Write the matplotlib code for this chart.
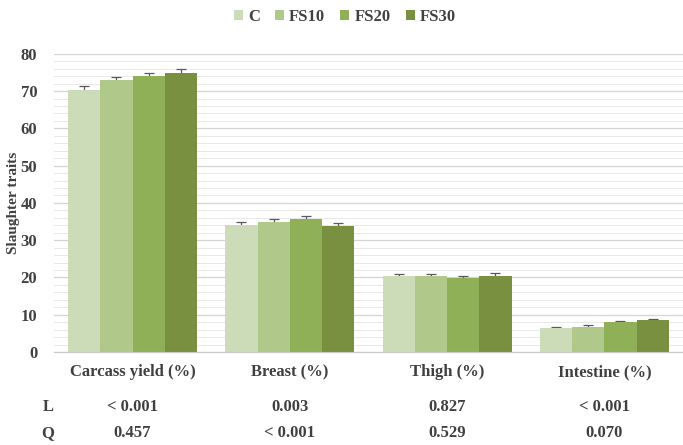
import numpy as np
import matplotlib.pyplot as plt
from matplotlib.ticker import MultipleLocator

categories = ['Carcass yield (%)', 'Breast (%)', 'Thigh (%)', 'Intestine (%)']
groups = ['C', 'FS10', 'FS20', 'FS30']
means = {
    'C':    [70.4, 34.0, 20.4, 6.5],
    'FS10': [73.0, 34.9, 20.3, 6.8],
    'FS20': [74.0, 35.7, 19.8, 8.0],
    'FS30': [74.8, 33.7, 20.5, 8.5],
}
errors = {
    'C':    [0.9, 0.8, 0.6, 0.3],
    'FS10': [0.9, 0.7, 0.6, 0.4],
    'FS20': [0.9, 0.8, 0.6, 0.4],
    'FS30': [1.0, 0.8, 0.6, 0.4],
}
p_linear = ['< 0.001', '0.003', '0.827', '< 0.001']
p_quad = ['0.457', '< 0.001', '0.529', '0.070']
colors = ['#cddcb8', '#b0c98a', '#8fb057', '#78903f']

plt.rcParams['font.family'] = 'Liberation Serif'
plt.rcParams['font.weight'] = 'bold'
txt = '#404040'

fig = plt.figure(figsize=(6.83, 4.45), dpi=100)
ax = fig.add_axes([0.079, 0.209, 0.921, 0.670])

x = np.arange(len(categories))
w = 0.205
for i, g in enumerate(groups):
    xs = x + (i - 1.5) * w
    ax.bar(xs, means[g], w, color=colors[i], label=g, zorder=3)
    # whiskers sit behind the bars so only the upper half shows
    ax.errorbar(xs, means[g], yerr=errors[g], fmt='none', ecolor='#595959',
                elinewidth=0.9, capsize=3.5, capthick=0.9, zorder=2)

ax.set_xlim(-0.5, len(categories) - 0.5)
ax.set_ylim(0, 80)
ax.yaxis.set_major_locator(MultipleLocator(10))
ax.yaxis.set_minor_locator(MultipleLocator(2))
ax.grid(axis='y', which='major', color='#d4d4d4', lw=0.9, zorder=0)
ax.grid(axis='y', which='minor', color='#e8e8e8', lw=0.7, zorder=0)
for s in ['top', 'right', 'left']:
    ax.spines[s].set_visible(False)
ax.spines['bottom'].set_color('#c8c8c8')
ax.spines['bottom'].set_zorder(4)
ax.tick_params(axis='both', which='both', length=0, colors=txt, labelsize=12)
ax.tick_params(axis='y', pad=12)
ax.tick_params(axis='x', pad=9, labelsize=12)
ax.set_xticks(x)
ax.set_xticklabels(categories, fontweight='bold')
for lab in ax.get_yticklabels():
    lab.set_fontweight('bold')
fig.text(14 / 683, 1 - 203 / 445, 'Slaughter traits', rotation=90, ha='center',
         va='center', fontsize=11, color=txt, fontweight='bold')

# P-values for linear and quadratic contrasts
trans = ax.get_xaxis_transform()
for xi, l, q in zip(x, p_linear, p_quad):
    ax.text(xi, -0.185, l, transform=trans, ha='center', va='center',
            fontsize=12, color=txt, fontweight='bold')
    ax.text(xi, -0.272, q, transform=trans, ha='center', va='center',
            fontsize=12, color=txt, fontweight='bold')
fig.text(48 / 683, 1 - 407 / 445, 'L', ha='center', va='center', fontsize=12,
         color=txt, fontweight='bold')
fig.text(48 / 683, 1 - 433 / 445, 'Q', ha='center', va='center', fontsize=12,
         color=txt, fontweight='bold')

leg = fig.legend(loc='center', bbox_to_anchor=(0.505, 1 - 17 / 445), ncol=4,
                 frameon=False, handlelength=0.55, handleheight=0.55,
                 handletextpad=0.3, columnspacing=0.9,
                 prop={'size': 12, 'weight': 'bold'})
for t in leg.get_texts():
    t.set_color(txt)

fig.savefig('out.png', dpi=100)
